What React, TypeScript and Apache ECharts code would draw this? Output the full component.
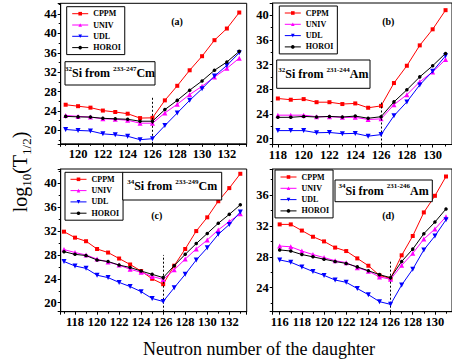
import React, { useEffect, useRef } from "react";
import * as echarts from "echarts";

const FONT = '"Liberation Serif", "Times New Roman", serif';
const NAMES = ["CPPM", "UNIV", "UDL", "HOROI"];
const COLORS = ["#ff0000", "#ff00ff", "#0000ff", "#000000"];
const SYMBOLS = ["rect", "triangle", "path://M0,0L10,0L5,9Z", "circle"];
const SYMBOL_SIZES = [4, 5, 5, 3.5];

// Panel (a): 32Si from 233-247Cm
const A_N = [119, 120, 121, 122, 123, 124, 125, 126, 127, 128, 129, 130, 131, 132, 133];
const A_CPPM = [25.3, 25.0, 24.7, 24.1, 23.8, 23.45, 22.55, 22.6, 26.2, 29.2, 32.4, 35.3, 38.6, 41.0, 44.3];
const A_UNIV = [23.1, 22.9, 22.75, 22.4, 22.3, 22.1, 21.5, 21.5, 23.6, 25.4, 27.4, 29.1, 31.0, 32.8, 34.9];
const A_UDL = [20.2, 20.0, 19.9, 19.3, 19.1, 18.8, 18.1, 18.3, 21.0, 23.6, 26.2, 28.6, 31.2, 33.4, 36.0];
const A_HOROI = [22.9, 22.8, 22.75, 22.5, 22.4, 22.3, 21.9, 21.9, 24.3, 26.2, 28.3, 30.2, 32.4, 34.1, 36.3];

// Panel (b): 32Si from 231-244Am
const B_N = [118, 119, 120, 121, 122, 123, 124, 125, 126, 127, 128, 129, 130, 131];
const B_CPPM = [26.5, 26.3, 26.4, 25.9, 25.9, 25.6, 25.7, 25.0, 25.3, 29.0, 31.8, 35.1, 37.7, 40.8];
const B_UNIV = [23.8, 23.8, 23.8, 23.55, 23.55, 23.45, 23.45, 23.1, 23.2, 25.5, 27.1, 29.2, 30.8, 32.8];
const B_UDL = [21.3, 21.3, 21.3, 20.95, 21.0, 20.8, 20.85, 20.4, 20.65, 23.7, 25.95, 28.7, 30.9, 33.4];
const B_HOROI = [23.45, 23.45, 23.6, 23.5, 23.6, 23.5, 23.65, 23.3, 23.55, 25.95, 27.9, 30.0, 31.8, 33.8];

// Panel (c): 34Si from 233-249Cm
const C_N = [117, 118, 119, 120, 121, 122, 123, 124, 125, 126, 127, 128, 129, 130, 131, 132, 133];
const C_CPPM = [31.9, 30.9, 30.3, 29.0, 28.4, 27.4, 26.4, 25.3, 24.0, 23.1, 26.2, 29.0, 32.0, 34.3, 37.0, 39.2, 41.6];
const C_UNIV = [28.9, 28.4, 28.0, 27.3, 26.8, 26.3, 25.6, 25.1, 24.4, 23.9, 25.5, 27.3, 29.0, 30.5, 32.2, 33.6, 34.9];
const C_UDL = [26.9, 26.15, 25.75, 24.6, 24.2, 23.4, 22.7, 21.85, 20.7, 20.2, 22.5, 24.75, 27.15, 29.2, 31.45, 33.1, 35.2];
const C_HOROI = [28.55, 28.1, 27.9, 27.15, 26.9, 26.3, 25.9, 25.3, 24.75, 24.2, 26.2, 28.1, 29.9, 31.6, 33.3, 34.8, 36.4];

// Panel (d): 34Si from 231-246Am
const D_N = [116, 117, 118, 119, 120, 121, 122, 123, 124, 125, 126, 127, 128, 129, 130, 131];
const D_CPPM = [32.2, 32.2, 31.4, 30.6, 30.0, 29.2, 28.75, 27.8, 26.85, 25.6, 25.2, 28.2, 30.7, 33.75, 35.9, 38.4];
const D_UNIV = [29.4, 29.3, 28.75, 28.3, 27.9, 27.5, 27.25, 26.6, 26.15, 25.4, 25.1, 26.9, 28.45, 30.3, 31.6, 33.2];
const D_UDL = [27.6, 27.3, 26.7, 26.1, 25.6, 25.0, 24.7, 23.9, 23.1, 22.2, 21.85, 24.35, 26.4, 28.9, 30.7, 32.8];
const D_HOROI = [28.9, 28.75, 28.3, 28.0, 27.7, 27.4, 27.15, 26.7, 26.2, 25.7, 25.3, 27.4, 29.0, 31.0, 32.5, 34.2];

const PANEL_TAGS = ["(a)", "(b)", "(c)", "(d)"];
const X_TITLE = "Neutron number of the daughter";

const PANELS = [
  {
    n: A_N, vals: [A_CPPM, A_UNIV, A_UDL, A_HOROI],
    grid: { left: 60.7, top: 3.3, width: 186, height: 140.5 },
    x: [118.6, 133.6], y: [17.25, 46.2], yStep: 4, markTop: 26.9,
    tag: { x: 177, y: 21 },
    legend: { left: 66.7, top: 6.7 },
    box: { x: 65, y: 61.7, w: 90, h: 23.3 },
    boxText: "{sup|32}{m|Si from }{sup|233-247}{m|Cm}",
  },
  {
    n: B_N, vals: [B_CPPM, B_UNIV, B_UDL, B_HOROI],
    grid: { left: 272.7, top: 3.0, width: 186, height: 141.5 },
    x: [117.6, 131.5], y: [19.05, 41.96], yStep: 4, markTop: 26,
    tag: { x: 388.3, y: 21 },
    legend: { left: 279.3, top: 6 },
    box: { x: 276.7, y: 60, w: 93.3, h: 28.3 },
    boxText: "{sup|32}{m|Si from }{sup|231-244}{m|Am}",
  },
  {
    n: C_N, vals: [C_CPPM, C_UNIV, C_UDL, C_HOROI],
    grid: { left: 60.7, top: 169, width: 186, height: 142.7 },
    x: [116.7, 133.58], y: [18.49, 42.4], yStep: 4, markTop: 28,
    tag: { x: 156.7, y: 215 },
    legend: { left: 65, top: 172.3 },
    box: { x: 122.7, y: 172.3, w: 99, h: 27.7 },
    boxText: "{sup|34}{m|Si from }{sup|233-249}{m|Cm}",
  },
  {
    n: D_N, vals: [D_CPPM, D_UNIV, D_UDL, D_HOROI],
    grid: { left: 272.7, top: 169, width: 186, height: 142.7 },
    x: [115.37, 131.54], y: [20.9, 39.37], yStep: 4, markTop: 27.4,
    tag: { x: 388.3, y: 215 },
    legend: { left: 275, top: 170 },
    box: { x: 335, y: 180, w: 97.3, h: 21.7 },
    boxText: "{sup|34}{m|Si from }{sup|231-246}{m|Am}",
  },
];

const axisCommon = {
  type: "value",
  axisLine: { show: true, onZero: false, lineStyle: { color: "#000", width: 1 } },
  axisTick: { show: true, inside: false, length: 3, lineStyle: { color: "#000", width: 1 } },
  minorTick: { show: true, splitNumber: 2, length: 2, lineStyle: { color: "#000", width: 1 } },
  splitLine: { show: false },
  axisLabel: {
    fontFamily: FONT, fontSize: 12.5, fontWeight: "bold", color: "#000",
    margin: 4, showMinLabel: false, showMaxLabel: false,
  },
};

export default function App() {
  const ref = useRef<HTMLDivElement>(null);
  useEffect(() => {
    if (!ref.current) return;
    const chart = echarts.init(ref.current, null, { renderer: "svg" });

    const grid = PANELS.map((p) => ({
      ...p.grid, show: true, borderColor: "#000", borderWidth: 1,
      backgroundColor: "transparent", containLabel: false,
    }));
    const xAxis = PANELS.map((p, i) => ({
      ...axisCommon, gridIndex: i, min: p.x[0], max: p.x[1], minInterval: 2, maxInterval: 2,
    }));
    const yAxis = PANELS.map((p, i) => ({
      ...axisCommon, gridIndex: i, min: p.y[0], max: p.y[1], minInterval: p.yStep, maxInterval: p.yStep,
    }));
    const series: any[] = [];
    PANELS.forEach((p, i) => {
      NAMES.forEach((name, k) => {
        const s: any = {
          type: "line", name, xAxisIndex: i, yAxisIndex: i,
          data: p.n.map((n, j) => [n, p.vals[k][j]]),
          symbol: SYMBOLS[k], symbolSize: SYMBOL_SIZES[k],
          lineStyle: { color: COLORS[k], width: 1 },
          itemStyle: { color: COLORS[k], borderWidth: 0 },
          showSymbol: true, clip: false, z: 3 + k,
          emphasis: { disabled: true },
        };
        if (k === 3) {
          s.markLine = {
            silent: true, symbol: ["none", "none"], label: { show: false },
            lineStyle: { color: "#000", type: [2, 2], width: 1 },
            data: [[{ coord: [126, p.y[0]] }, { coord: [126, p.markTop] }]],
          };
        }
        series.push(s);
      });
    });

    const legend = PANELS.map((p) => ({
      orient: "vertical", left: p.legend.left, top: p.legend.top, data: NAMES,
      itemWidth: 16, itemHeight: 4.5, itemGap: 3.3,
      padding: [3, 4, 3, 5], borderColor: "#000", borderWidth: 1, borderRadius: 0,
      backgroundColor: "#fff", selectedMode: false,
      itemStyle: { borderWidth: 0 },
      lineStyle: { width: 1 },
      textStyle: { fontFamily: FONT, fontSize: 8, fontWeight: "bold", color: "#000", lineHeight: 8 },
    }));

    const graphic: any[] = [];
    PANELS.forEach((p, i) => {
      graphic.push({
        type: "rect", shape: { x: p.box.x, y: p.box.y, width: p.box.w, height: p.box.h },
        style: { fill: "#fff", stroke: "#000", lineWidth: 1 }, z: 100,
      });
      graphic.push({
        type: "text", x: p.box.x + p.box.w / 2, y: p.box.y + p.box.h / 2, z: 101,
        style: {
          text: p.boxText, align: "center", verticalAlign: "middle",
          rich: {
            m: { fontFamily: FONT, fontSize: 12, fontWeight: "bold", fill: "#000", lineHeight: 16 },
            sup: { fontFamily: FONT, fontSize: 7, fontWeight: "bold", fill: "#000", lineHeight: 8, verticalAlign: "top" },
          },
        },
      });
      graphic.push({
        type: "text", x: p.tag.x, y: p.tag.y, z: 101,
        style: {
          text: PANEL_TAGS[i], align: "center", verticalAlign: "middle",
          font: `bold 10px ${FONT}`, fill: "#000",
        },
      });
    });
    graphic.push({
      type: "text", x: 259, y: 349, z: 101,
      style: { text: X_TITLE, align: "center", verticalAlign: "middle", font: `18px ${FONT}`, fill: "#000" },
    });
    graphic.push({
      type: "text", x: 20, y: 172, rotation: Math.PI / 2, z: 101,
      style: {
        text: "{a|log}{s|10}{a|(T}{s|1/2}{a|)}", align: "center", verticalAlign: "middle",
        rich: {
          a: { fontFamily: FONT, fontSize: 20, fill: "#000", lineHeight: 26 },
          s: { fontFamily: FONT, fontSize: 13, fill: "#000", lineHeight: 13, verticalAlign: "bottom" },
        },
      },
    });

    chart.setOption({
      animation: false,
      backgroundColor: "#fff",
      grid, xAxis, yAxis, series, legend, graphic,
    });
    return () => chart.dispose();
  }, []);
  return <div ref={ref} style={{ position: "absolute", left: 0, top: 0, width: 452, height: 361 }} />;
}
